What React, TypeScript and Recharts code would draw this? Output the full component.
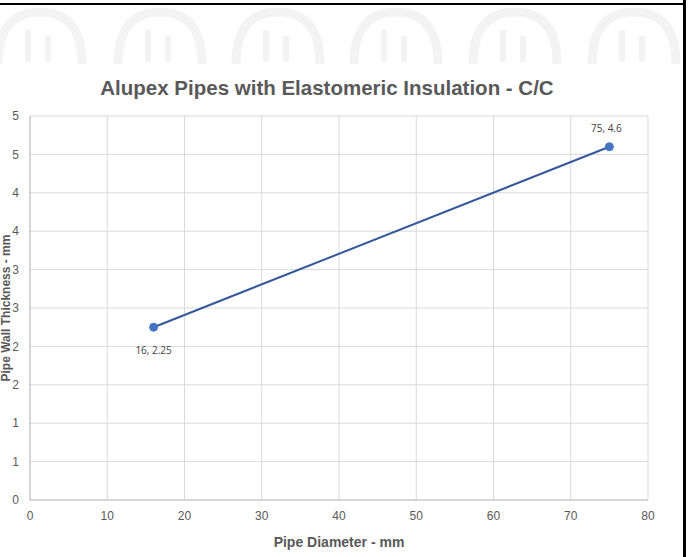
import { LineChart, Line, XAxis, YAxis, CartesianGrid, LabelList } from 'recharts';

const diameters = [16, 75];
const thickness = [2.25, 4.6];
const xTicks = [0, 10, 20, 30, 40, 50, 60, 70, 80];
const yTicks = [0, 0.5, 1, 1.5, 2, 2.5, 3, 3.5, 4, 4.5, 5];
const archCenters = [40, 160, 278, 396, 515, 634];

const data = diameters.map((d, i) => ({ x: d, y: thickness[i], label: `${d}, ${thickness[i]}` }));

const font = '"Liberation Sans", Arial, sans-serif';

const PointLabel = (props: any) => {
  const { x, y, value, index } = props;
  const dy = index === 0 ? 27 : -15;
  const dx = index === 0 ? 0 : -3;
  return (
    <text x={x + dx} y={y + dy} textAnchor="middle" fontSize={10} fill="#404040" fontFamily='"Open Sans", sans-serif'>
      {value}
    </text>
  );
};

const App = () => {
  return (
    <div style={{ position: 'absolute', left: 0, top: 0, width: 693, height: 557, background: '#fff', overflow: 'hidden', fontFamily: font }}>
      <svg width={693} height={557} style={{ position: 'absolute', left: 0, top: 0 }}>
        {archCenters.map((c, i) => (
          <g key={i} fill="none" stroke="#f3f3f3" strokeWidth={9}>
            <path d={`M ${c - 42} 64 Q ${c - 42} 12 ${c} 12 Q ${c + 42} 12 ${c + 42} 64`} />
            <line x1={c - 12} y1={30} x2={c - 12} y2={62} strokeWidth={6} />
            <line x1={c + 8} y1={36} x2={c + 8} y2={62} strokeWidth={6} />
          </g>
        ))}
      </svg>
      <div style={{ position: 'absolute', left: 0, width: 654, top: 76, textAlign: 'center', fontSize: 20.5, fontWeight: 'bold', color: '#595959' }}>
        Alupex Pipes with Elastomeric Insulation - C/C
      </div>
      <div style={{ position: 'absolute', left: 0, top: 0 }}>
        <LineChart width={693} height={557} data={data} margin={{ top: 116, right: 45, bottom: 27, left: 0 }}>
          <CartesianGrid stroke="#d9d9d9" />
          <XAxis
            type="number"
            dataKey="x"
            domain={[0, 80]}
            ticks={xTicks}
            height={30}
            stroke="#bfbfbf"
            tickLine={false}
            tickSize={0}
            tickMargin={11}
            tick={{ fill: '#595959', fontSize: 12, fontFamily: font }}
            label={{ value: 'Pipe Diameter - mm', position: 'insideBottom', offset: -17, fill: '#595959', fontSize: 14, fontWeight: 'bold', fontFamily: font }}
          />
          <YAxis
            type="number"
            domain={[0, 5]}
            ticks={yTicks}
            width={30}
            stroke="#bfbfbf"
            tickLine={false}
            tickSize={0}
            tickMargin={11}
            tickFormatter={(v: number) => String(Math.round(v))}
            tick={{ fill: '#595959', fontSize: 12, fontFamily: font }}
            label={{ value: 'Pipe Wall Thickness - mm', angle: -90, position: 'center', dx: -9, fill: '#595959', fontSize: 12, fontWeight: 'bold', fontFamily: font }}
          />
          <Line
            dataKey="y"
            stroke="#34589c"
            strokeWidth={2}
            dot={{ r: 4, fill: '#4472c4', stroke: '#4472c4', strokeWidth: 1 }}
            isAnimationActive={false}
          >
            <LabelList dataKey="label" content={PointLabel} />
          </Line>
        </LineChart>
      </div>
      <div style={{ position: 'absolute', left: 0, top: 3, width: 686, height: 2, background: '#000' }} />
      <div style={{ position: 'absolute', left: 683, top: 0, width: 3, height: 557, background: '#000' }} />
    </div>
  );
};

export default App;
